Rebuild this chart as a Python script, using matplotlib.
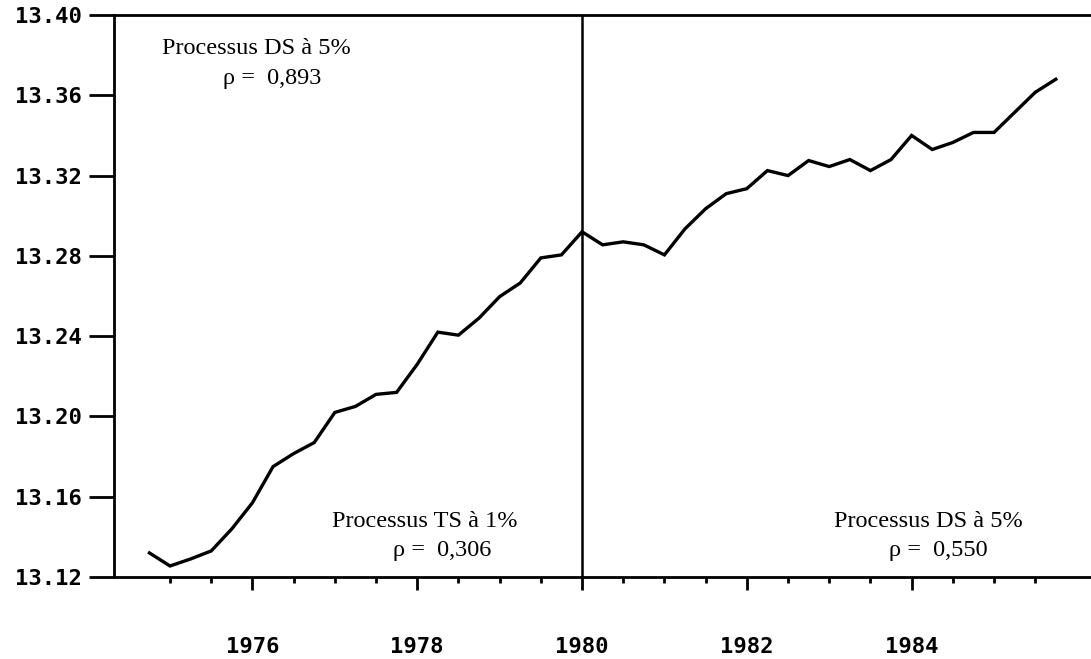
import numpy as np
import pandas as pd
import matplotlib
matplotlib.use("Agg")
import matplotlib.pyplot as plt
from matplotlib.ticker import FixedLocator

# quarterly series, 1974Q4 .. 1985Q4
quarters = pd.period_range("1974Q4", "1985Q4", freq="Q")
values = [
    13.132,
    13.1255, 13.129, 13.133, 13.144,
    13.157, 13.175, 13.1815, 13.187,
    13.202, 13.205, 13.211, 13.212,
    13.226, 13.242, 13.2405, 13.249,
    13.2597, 13.2665, 13.279, 13.2805,
    13.292, 13.2855, 13.287, 13.2855,
    13.2805, 13.2935, 13.3035, 13.311,
    13.3135, 13.3225, 13.320, 13.3275,
    13.3245, 13.328, 13.3225, 13.328,
    13.340, 13.333, 13.3365, 13.3415,
    13.3415, 13.3515, 13.3615, 13.368,
]
year_ticks = [1976, 1978, 1980, 1982, 1984]
y_ticks = [13.12, 13.16, 13.20, 13.24, 13.28, 13.32, 13.36, 13.40]
break_year = 1980

# annotations: (text, x, y)
notes = [
    ("Processus DS à 5%", 1974.90, 13.3835),
    ("ρ =  0,893", 1975.64, 13.3685),
    ("Processus TS à 1%", 1976.97, 13.1475),
    ("ρ =  0,306", 1977.70, 13.133),
    ("Processus DS à 5%", 1983.06, 13.1475),
    ("ρ =  0,550", 1983.72, 13.133),
]

x = np.array([q.year + (q.quarter - 1) / 4 for q in quarters])

fig = plt.figure(figsize=(10.91, 6.59), dpi=100)
ax = fig.add_axes([0.1045, 0.1244, 0.8965, 0.8528])

ax.plot(x, values, color="black", linewidth=2.4, solid_joinstyle="miter")
ax.axvline(break_year, color="black", linewidth=1.8)

ax.set_xlim(1974.32, 1986.19)
ax.set_ylim(13.12, 13.40)

for side in ["left", "bottom", "top"]:
    ax.spines[side].set_linewidth(2.0)
ax.spines["right"].set_visible(False)

mono = "DejaVu Sans Mono"
ax.set_yticks(y_ticks)
ax.set_yticklabels([f"{v:.2f}" for v in y_ticks], family=mono, fontsize=16, fontweight="bold")
ax.tick_params(axis="y", direction="out", length=18, width=2.0, pad=5)

# half-year ticks, only where the original axis had them
ax.xaxis.set_major_locator(FixedLocator(year_ticks))
ax.xaxis.set_minor_locator(FixedLocator(np.arange(1975, 1986, 0.5)))
ax.set_xticklabels([str(y) for y in year_ticks], family=mono, fontsize=16, fontweight="bold")
ax.tick_params(axis="x", which="major", direction="out", length=9.5, width=2.0, pad=34)
ax.tick_params(axis="x", which="minor", direction="out", length=4.5, width=2.0)

for txt, tx, ty in notes:
    ax.text(tx, ty, txt, family="Liberation Serif", fontsize=17.5,
            ha="left", va="center", color="black")

fig.savefig("out.png", dpi=100)
